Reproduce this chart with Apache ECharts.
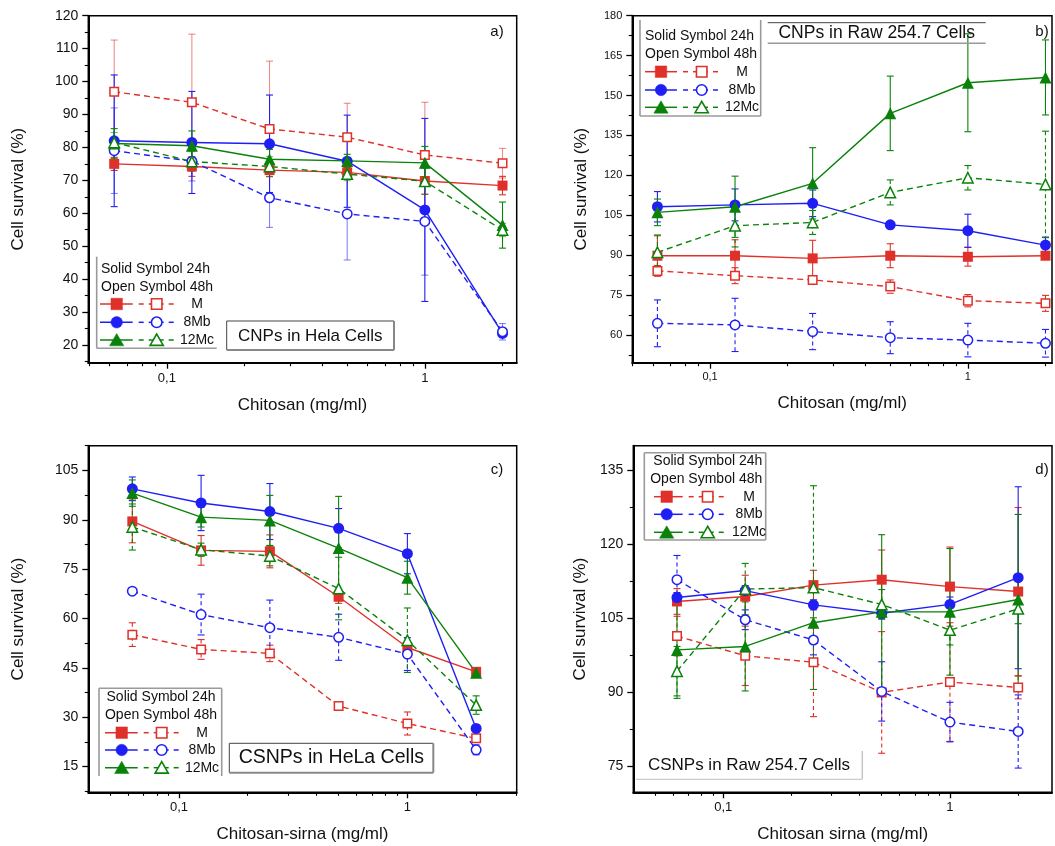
<!DOCTYPE html>
<html><head><meta charset="utf-8">
<script src="https://cdn.jsdelivr.net/npm/echarts@6/dist/echarts.min.js"></script>
<style>html,body{margin:0;padding:0;background:#fff}#c{width:1055px;height:846px}</style>
</head><body><div id="c"></div>
<script>
// ---------------- DATA ----------------
const conc = [0.0625, 0.125, 0.25, 0.5, 1, 2];
const xMajorTicks = [0.1, 1];
const legendLabels = ['M', '8Mb', '12Mc'];

// Panel a: CNPs in Hela Cells
const a_M_24h = [75.0, 74.2, 73.1, 72.4, 69.8, 68.4];
const a_M_24h_err = [2, 3, 2, 2, 4, 2.8];
const a_M_48h = [96.9, 93.7, 85.6, 83.1, 77.7, 75.2];
const a_M_48h_err = [15.7, 20.7, 20.6, 10.3, 16, 4.5];
const a_8Mb_24h = [82.0, 81.5, 81.1, 75.8, 61.0, 23.5];
const a_8Mb_24h_err = [20, 15.5, 14.8, 14, 27.8, 1];
const a_8Mb_48h = [79.0, 75.8, 64.7, 59.8, 57.5, 24.0];
const a_8Mb_48h_err = [13, 6, 9, 14, 16.3, 2.5];
const a_12Mc_24h = [81.2, 80.5, 76.4, 75.9, 75.3, 56.4];
const a_12Mc_24h_err = [4.5, 4.5, 3, 2, 5, 7];
const a_12Mc_48h = [81.5, 75.7, 74.2, 71.9, 69.7, 54.9];
const a_12Mc_48h_err = [3, 3, 3, 2, 4, 2];
const a_yTicks = [20, 30, 40, 50, 60, 70, 80, 90, 100, 110, 120];
const a_yMinor = [15, 25, 35, 45, 55, 65, 75, 85, 95, 105, 115];
const a_xMinor = [0.05, 0.06, 0.07, 0.08, 0.09, 0.2, 0.3, 0.4, 0.5, 0.6, 0.7, 0.8, 0.9, 2];

// Panel b: CNPs in Raw 254.7 Cells
const b_M_24h = [89.8, 89.8, 88.8, 89.8, 89.4, 89.8];
const b_M_24h_err = [7.5, 6, 6.8, 4.5, 3.5, 1];
const b_M_48h = [84.1, 82.3, 80.7, 78.2, 72.9, 71.9];
const b_M_48h_err = [2, 3, 1.5, 2.5, 2.3, 3];
const b_8Mb_24h = [108.2, 108.9, 109.5, 101.4, 99.2, 93.8];
const b_8Mb_24h_err = [5.7, 6, 5, 1, 6.2, 3];
const b_8Mb_48h = [64.4, 63.8, 61.3, 59.0, 58.1, 56.9];
const b_8Mb_48h_err = [8.8, 10, 6.8, 6, 6.3, 5.2];
const b_12Mc_24h = [106.1, 108.2, 117.0, 143.3, 154.8, 156.8];
const b_12Mc_24h_err = [5, 11.5, 13.4, 14, 18.4, 14.1];
const b_12Mc_48h = [91.1, 101.1, 102.3, 113.6, 119.1, 116.6];
const b_12Mc_48h_err = [6.5, 8, 4.5, 4.7, 4.6, 20];
const b_yTicks = [60, 75, 90, 105, 120, 135, 150, 165, 180];
const b_yMinor = [52.5, 67.5, 82.5, 97.5, 112.5, 127.5, 142.5, 157.5, 172.5];
const b_xMinor = [0.05, 0.06, 0.07, 0.08, 0.09, 0.2, 0.3, 0.4, 0.5, 0.6, 0.7, 0.8, 0.9, 2];

// Panel c: CSNPs in HeLa Cells
const c_M_24h = [89.5, 80.7, 80.4, 66.6, 51.2, 43.8];
const c_M_24h_err = [6.5, 4.5, 5, 2, 1, 1];
const c_M_48h = [55.1, 50.6, 49.4, 33.4, 28.1, 23.6];
const c_M_48h_err = [3.6, 3, 2.5, 0.5, 3.5, 1];
const c_8Mb_24h = [99.4, 95.1, 92.5, 87.4, 79.7, 26.6];
const c_8Mb_24h_err = [3.6, 8.4, 8.5, 6, 6.1, 1];
const c_8Mb_48h = [68.3, 61.2, 57.2, 54.3, 49.2, 20.1];
const c_8Mb_48h_err = [1, 6.2, 8.4, 7, 5, 1.5];
const c_12Mc_24h = [98.1, 90.8, 89.8, 81.4, 72.4, 43.5];
const c_12Mc_24h_err = [4, 3, 7.6, 15.7, 5, 1];
const c_12Mc_48h = [87.8, 80.9, 79.0, 69.1, 53.4, 33.7];
const c_12Mc_48h_err = [7, 2, 3, 9.5, 9.8, 2.8];
const c_yTicks = [15, 30, 45, 60, 75, 90, 105];
const c_yMinor = [7.5, 22.5, 37.5, 52.5, 67.5, 82.5, 97.5, 112.5];
const c_xMinor = [0.05, 0.06, 0.07, 0.08, 0.09, 0.2, 0.3, 0.4, 0.5, 0.6, 0.7, 0.8, 0.9, 2, 3];

// Panel d: CSNPs in Raw 254.7 Cells
const d_M_24h = [108.4, 109.4, 111.7, 112.8, 111.4, 110.4];
const d_M_24h_err = [2.6, 4.3, 3, 6, 8, 17];
const d_M_48h = [101.4, 97.4, 96.1, 90.0, 92.1, 91.0];
const d_M_48h_err = [4, 6, 11, 12.3, 12, 2.3];
const d_8Mb_24h = [109.2, 110.6, 107.7, 106.0, 107.8, 113.2];
const d_8Mb_24h_err = [1, 1, 1, 1, 1.5, 18.4];
const d_8Mb_48h = [112.8, 104.7, 100.6, 90.2, 84.0, 82.1];
const d_8Mb_48h_err = [4.9, 2, 3, 6, 4, 7.4];
const d_12Mc_24h = [98.6, 99.3, 104.1, 106.3, 106.3, 108.8];
const d_12Mc_24h_err = [9.8, 9, 1, 15.6, 12.8, 17.2];
const d_12Mc_48h = [94.3, 110.9, 111.2, 107.8, 102.6, 106.9];
const d_12Mc_48h_err = [5, 5.2, 20.6, 3, 3, 3];
const d_yTicks = [75, 90, 105, 120, 135];
const d_yMinor = [82.5, 97.5, 112.5, 127.5];
const d_xMinor = [0.05, 0.06, 0.07, 0.08, 0.09, 0.2, 0.3, 0.4, 0.5, 0.6, 0.7, 0.8, 0.9, 2];

// ---------------- STYLE / LAYOUT ----------------
const RED = '#e0302a', BLUE = '#1f1ff5', GREEN = '#0a820a';
const FONT = "'Liberation Sans', Arial, sans-serif";
const TXT = '#111';

const panels = [
  { grid: {left: 88.3, top: 15.7, width: 428.4, height: 347}, xr: [0.0496, 2.27], yr: [14.6, 120],
    yT: a_yTicks, yM: a_yMinor, xM: a_xMinor, xlab: 13, ylab: 14, yNameGap: 61, xNameGap: 34,
    xTitle: 'Chitosan (mg/ml)', openDash: false,
    s: [[a_M_24h, a_M_24h_err, a_M_48h, a_M_48h_err], [a_8Mb_24h, a_8Mb_24h_err, a_8Mb_48h, a_8Mb_48h_err], [a_12Mc_24h, a_12Mc_24h_err, a_12Mc_48h, a_12Mc_48h_err]] },
  { grid: {left: 632.3, top: 15.7, width: 419.7, height: 347}, xr: [0.04994, 2.12], yr: [49.6, 180],
    yT: b_yTicks, yM: b_yMinor, xM: b_xMinor, xlab: 11, ylab: 11, yNameGap: 42, xNameGap: 32,
    xTitle: 'Chitosan (mg/ml)', openDash: true,
    s: [[b_M_24h, b_M_24h_err, b_M_48h, b_M_48h_err], [b_8Mb_24h, b_8Mb_24h_err, b_8Mb_48h, b_8Mb_48h_err], [b_12Mc_24h, b_12Mc_24h_err, b_12Mc_48h, b_12Mc_48h_err]] },
  { grid: {left: 88.3, top: 445.7, width: 428.4, height: 346.6}, xr: [0.0401, 3.01], yr: [7.2, 112.5],
    yT: c_yTicks, yM: c_yMinor, xM: c_xMinor, xlab: 13, ylab: 14, yNameGap: 61, xNameGap: 34,
    xTitle: 'Chitosan-sirna (mg/ml)', openDash: true,
    s: [[c_M_24h, c_M_24h_err, c_M_48h, c_M_48h_err], [c_8Mb_24h, c_8Mb_24h_err, c_8Mb_48h, c_8Mb_48h_err], [c_12Mc_24h, c_12Mc_24h_err, c_12Mc_48h, c_12Mc_48h_err]] },
  { grid: {left: 633.3, top: 445.7, width: 418.7, height: 346.6}, xr: [0.0401, 2.82], yr: [69.8, 139.9],
    yT: d_yTicks, yM: d_yMinor, xM: d_xMinor, xlab: 13, ylab: 14, yNameGap: 44, xNameGap: 34,
    xTitle: 'Chitosan sirna (mg/ml)', openDash: true,
    s: [[d_M_24h, d_M_24h_err, d_M_48h, d_M_48h_err], [d_8Mb_24h, d_8Mb_24h_err, d_8Mb_48h, d_8Mb_48h_err], [d_12Mc_24h, d_12Mc_24h_err, d_12Mc_48h, d_12Mc_48h_err]] }
];

const kinds = [
  {color: RED, symbol: 'rect', fs: 10, os: 8.5},
  {color: BLUE, symbol: 'circle', fs: 11, os: 9.5},
  {color: GREEN, symbol: 'triangle', fs: 12, os: 10.5}
];

const grids = [], xAxes = [], yAxes = [], series = [];

function errRender(color, dashed, alpha) {
  return function (params, api) {
    const x = api.value(0), y = api.value(1), e = api.value(2);
    const top = api.coord([x, y + e]);
    const bot = api.coord([x, y - e]);
    const cw = 3.5;
    const st = {stroke: color, lineWidth: 1.1, opacity: alpha};
    return {
      type: 'group', children: [
        {type: 'line', shape: {x1: top[0], y1: top[1], x2: bot[0], y2: bot[1]}, style: Object.assign({lineDash: dashed ? [4, 3] : null}, st)},
        {type: 'line', shape: {x1: top[0] - cw, y1: top[1], x2: top[0] + cw, y2: top[1]}, style: st},
        {type: 'line', shape: {x1: bot[0] - cw, y1: bot[1], x2: bot[0] + cw, y2: bot[1]}, style: st}
      ]
    };
  };
}

panels.forEach((P, i) => {
  grids.push(Object.assign({show: true, borderColor: '#000', borderWidth: 1.5, containLabel: false, outerBoundsMode: 'none'}, P.grid));
  const xi = xAxes.length, yi = yAxes.length;
  xAxes.push({
    type: 'log', logBase: 10, gridIndex: i, min: P.xr[0], max: P.xr[1], position: 'bottom',
    axisLine: {show: true, onZero: false, lineStyle: {color: '#000', width: 2}},
    axisTick: {show: true, inside: false, length: 6, lineStyle: {color: '#000', width: 1.3}, customValues: xMajorTicks},
    axisLabel: {show: true, customValues: xMajorTicks, formatter: v => String(v).replace('.', ','), fontSize: P.xlab, color: TXT, fontFamily: FONT, margin: 9},
    splitLine: {show: false}, minorTick: {show: false},
    name: P.xTitle, nameLocation: 'middle', nameGap: P.xNameGap,
    nameTextStyle: {fontSize: 17, fontFamily: FONT, color: TXT}
  });
  xAxes.push({
    type: 'log', logBase: 10, gridIndex: i, min: P.xr[0], max: P.xr[1], position: 'bottom',
    axisLine: {show: false},
    axisTick: {show: true, inside: false, length: 3.5, lineStyle: {color: '#000', width: 1.1}, customValues: P.xM},
    axisLabel: {show: false}, splitLine: {show: false}
  });
  yAxes.push({
    type: 'value', gridIndex: i, min: P.yr[0], max: P.yr[1], position: 'left',
    axisLine: {show: true, onZero: false, lineStyle: {color: '#000', width: 2}},
    axisTick: {show: true, inside: false, length: 6, lineStyle: {color: '#000', width: 1.3}, customValues: P.yT},
    axisLabel: {show: true, customValues: P.yT, fontSize: P.ylab, color: TXT, fontFamily: FONT, margin: 10},
    splitLine: {show: false},
    name: 'Cell survival (%)', nameLocation: 'middle', nameGap: P.yNameGap,
    nameTextStyle: {fontSize: 17, fontFamily: FONT, color: TXT}
  });
  yAxes.push({
    type: 'value', gridIndex: i, min: P.yr[0], max: P.yr[1], position: 'left',
    axisLine: {show: false},
    axisTick: {show: true, inside: false, length: 3.5, lineStyle: {color: '#000', width: 1.1}, customValues: P.yM},
    axisLabel: {show: false}, splitLine: {show: false}
  });
  P.s.forEach((grp, k) => {
    const K = kinds[k];
    [[grp[0], grp[1], false], [grp[2], grp[3], true]].forEach(([vals, errs, open]) => {
      series.push({
        type: 'custom', xAxisIndex: xi, yAxisIndex: yi, silent: true, z: 2,
        data: conc.map((x, j) => [x, vals[j], errs[j]]),
        encode: {x: 0, y: 1},
        renderItem: errRender(K.color, open && P.openDash, open && !P.openDash ? 0.55 : 1)
      });
      series.push({
        type: 'line', xAxisIndex: xi, yAxisIndex: yi, z: 3, silent: true,
        data: conc.map((x, j) => [x, vals[j]]),
        symbol: K.symbol, symbolSize: open ? K.os : K.fs, showAllSymbol: true,
        lineStyle: {color: K.color, width: 1.4, type: open ? [6, 4] : 'solid'},
        itemStyle: {color: open ? '#fff' : K.color, borderColor: K.color, borderWidth: open ? 1.5 : 0}
      });
    });
  });
});

// ---------------- LEGENDS / LABELS (graphic) ----------------
const G = [];
function txt(x, y, s, size, align, extra) {
  G.push(Object.assign({type: 'text', x, y, z: 20, style: {text: s, fontSize: size, fontFamily: FONT, fill: TXT,
    align: align, textAlign: align, verticalAlign: 'middle', textVerticalAlign: 'middle'}}, extra || {}));
}
function seg(x1, y1, x2, y2, color, w, dash) {
  G.push({type: 'line', z: 20, shape: {x1, y1, x2, y2}, style: {stroke: color, lineWidth: w, lineDash: dash || null}});
}
function mark(kind, cx, cy, s, color, open) {
  const style = open ? {fill: '#fff', stroke: color, lineWidth: 1.6} : {fill: color, stroke: color, lineWidth: 0.5};
  if (kind === 'rect') G.push({type: 'rect', z: 21, shape: {x: cx - s / 2, y: cy - s / 2, width: s, height: s}, style});
  else if (kind === 'circle') G.push({type: 'circle', z: 21, shape: {cx, cy, r: s / 2}, style});
  else G.push({type: 'polygon', z: 21, shape: {points: [[cx, cy - s * 0.5], [cx - s * 0.55, cy + s * 0.45], [cx + s * 0.55, cy + s * 0.45]]}, style});
}
function legend(L) {
  L.box.forEach(b => seg(b[0], b[1], b[2], b[3], '#9a9a9a', 1.6));
  txt(L.hx, L.hy[0], 'Solid Symbol 24h', 14, L.halign);
  txt(L.hx, L.hy[1], 'Open Symbol 48h', 14, L.halign);
  kinds.forEach((K, k) => {
    const y = L.ry[k];
    seg(L.x1, y, L.sx + 16, y, K.color, 1.5);
    seg(L.sx + 22, y, L.x2, y, K.color, 1.5, [5, 5]);
    mark(K.symbol, L.sx, y, K.symbol === 'triangle' ? 13 : 11.5, K.color, false);
    mark(K.symbol, L.ox, y, K.symbol === 'triangle' ? 12 : 10.5, K.color, true);
    txt(L.lx, y, legendLabels[k], 14, 'center');
  });
}
legend({box: [[96.7, 256.7, 96.7, 348.3], [96.7, 348.3, 216.7, 348.3]], hx: 101, hy: [269, 286.7], halign: 'left',
  ry: [304, 322.3, 340], x1: 100, sx: 116.7, ox: 156.7, x2: 176, lx: 197});
legend({box: [[640, 20, 640, 116], [640, 116, 760.7, 116], [760.7, 20, 760.7, 116]], hx: 645, hy: [36, 54], halign: 'left',
  ry: [71.7, 90, 107.3], x1: 645, sx: 661, ox: 701.7, x2: 720, lx: 742});
legend({box: [[99, 688.3, 99, 776], [99, 688.3, 221.7, 688.3], [221.7, 688.3, 221.7, 776]], hx: 161, hy: [696.7, 715], halign: 'center',
  ry: [732.7, 750, 767.7], x1: 105, sx: 121.7, ox: 161.7, x2: 180, lx: 202});
legend({box: [[644.3, 452.7, 644.3, 540], [644.3, 452.7, 765.7, 452.7], [765.7, 452.7, 765.7, 540], [644.3, 540, 765.7, 540]], hx: 762.3, hy: [461, 479.3], halign: 'right',
  ry: [496.7, 514.3, 532.3], x1: 654, sx: 666.7, ox: 707.7, x2: 728, lx: 749});

// Title boxes
seg(226.7, 321, 394, 321, '#444', 1); seg(226.7, 321, 226.7, 350, '#444', 1);
seg(394, 321, 394, 350, '#888', 2); seg(226.7, 350, 394, 350, '#888', 2);
txt(310.3, 336, 'CNPs in Hela Cells', 17, 'center');

seg(767.7, 22.7, 985.7, 22.7, '#444', 1); seg(767.7, 43.3, 985.7, 43.3, '#999', 1.5);
txt(876.7, 33, 'CNPs in Raw 254.7 Cells', 17.5, 'center');

seg(229.3, 743.3, 433.3, 743.3, '#444', 1); seg(229.3, 743.3, 229.3, 772.7, '#444', 1);
seg(433.3, 743.3, 433.3, 772.7, '#888', 2); seg(229.3, 772.7, 433.3, 772.7, '#888', 2);
txt(331.3, 758, 'CSNPs in HeLa Cells', 19.5, 'center');

seg(862.3, 751, 862.3, 779.3, '#bbb', 1.2); seg(636, 779.3, 862.3, 779.3, '#ccc', 1.2);
txt(749, 765.7, 'CSNPs in Raw 254.7 Cells', 17, 'center');

txt(497, 32, 'a)', 15, 'center');
txt(1042, 32, 'b)', 15, 'center');
txt(497, 470, 'c)', 15, 'center');
txt(1042, 470, 'd)', 15, 'center');

const chart = echarts.init(document.getElementById('c'), null, {renderer: 'canvas'});
chart.setOption({
  animation: false, backgroundColor: '#fff',
  textStyle: {fontFamily: FONT},
  grid: grids, xAxis: xAxes, yAxis: yAxes, series: series, graphic: G
});
</script></body></html>
